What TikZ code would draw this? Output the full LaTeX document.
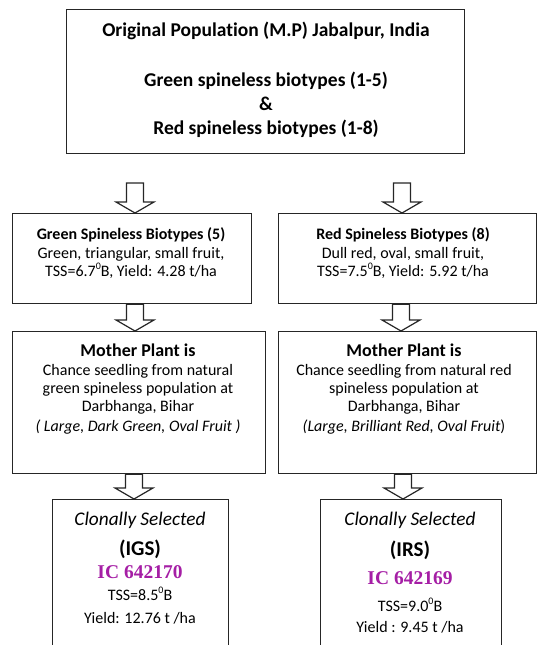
\documentclass[tikz,border=0pt]{standalone}
\usepackage{fontspec}
\setmainfont{Carlito}[Ligatures={NoCommon,NoRequired,NoContextual},Contextuals={NoAlternate}]
\newfontfamily\timesfont{Liberation Serif}
\usetikzlibrary{calc}
\definecolor{boxline}{HTML}{262626}
\definecolor{icmag}{RGB}{165,30,165}
\newcommand\degsup{\raisebox{0.42em}{\fontsize{10}{10}\selectfont 0}}
\newcommand\hollowarrow[2]{%
  \draw[harrow] let \p1=(#1), \p2=(#2) in
    (\x1-8.5pt,\y1) -- (\x1-8.5pt,\y2+11pt) -- (\x1-19pt,\y2+11pt) -- (\x1,\y2)
    -- (\x1+19pt,\y2+11pt) -- (\x1+8.5pt,\y2+11pt) -- (\x1+8.5pt,\y1) -- cycle;}
\begin{document}
\begin{tikzpicture}[x=1pt,y=-1pt,
  box/.style={draw=boxline, line width=1.3pt, rectangle, inner sep=0pt, anchor=north west},
  tx/.style={anchor=base, inner sep=0pt, text=black},
  harrow/.style={draw=boxline, line width=1.2pt, fill=white, line join=miter}]
\useasboundingbox (0,0) rectangle (537,645);
% boxes
\node[box, minimum width=398pt, minimum height=144pt] (top) at (66,9) {};
\node[box, minimum width=239pt, minimum height=90pt] (gb) at (12,213) {};
\node[box, minimum width=258pt, minimum height=90pt] (rb) at (278,213) {};
\node[box, minimum width=253pt, minimum height=142pt] (gm) at (12,331) {};
\node[box, minimum width=258pt, minimum height=142pt] (rm) at (278,331) {};
\node[box, minimum width=176pt, minimum height=170pt] (gs) at (52,499) {};
\node[box, minimum width=181pt, minimum height=170pt] (rs) at (320,499) {};
% top text
\begin{scope}[font=\fontsize{19.5}{24}\selectfont\bfseries]
\node[tx] (t1) at (266,36) {Original Population (M.P) Jabalpur, India};
\node[tx] (t2) at (266,86) {Green spineless biotypes (1-5)};
\node[tx] (t3) at (266,110) {\&};
\node[tx] (t4) at (266,134) {Red spineless biotypes (1-8)};
\end{scope}
% biotype boxes
\begin{scope}[font=\fontsize{16}{19}\selectfont]
\node[tx, font=\fontsize{16}{19}\selectfont\bfseries] (gb1) at (131,239) {Green Spineless Biotypes (5)};
\node[tx] (gb2) at (131,258) {Green, triangular, small fruit,};
\node[tx] (gb3) at (131,276) {TSS=6.7\degsup B, Yield: 4.28 t/ha};
\node[tx, font=\fontsize{16}{19}\selectfont\bfseries] (rb1) at (403,239) {Red Spineless Biotypes (8)};
\node[tx] (rb2) at (403,258) {Dull red, oval, small fruit,};
\node[tx] (rb3) at (403,276) {TSS=7.5\degsup B, Yield: 5.92 t/ha};
\end{scope}
% mother plant boxes
\begin{scope}[font=\fontsize{16}{19}\selectfont]
\node[tx, font=\fontsize{18}{21}\selectfont\bfseries] (gm1) at (138,356) {Mother Plant is};
\node[tx] (gm2) at (138,375) {Chance seedling from natural};
\node[tx] (gm3) at (138,393) {green spineless population at};
\node[tx] (gm4) at (138,411) {Darbhanga, Bihar};
\node[tx] (gm5) at (138,431) {\textit{( Large, Dark Green, Oval Fruit )}};
\node[tx, font=\fontsize{18}{21}\selectfont\bfseries] (rm1) at (404,356) {Mother Plant is};
\node[tx] (rm2) at (404,375) {Chance seedling from natural red};
\node[tx] (rm3) at (404,393) {spineless population at};
\node[tx] (rm4) at (404,411) {Darbhanga, Bihar};
\node[tx] (rm5) at (404,431) {\textit{(Large, Brilliant Red, Oval Fruit})};
\end{scope}
% selected boxes
\begin{scope}[font=\fontsize{16}{19}\selectfont]
\node[tx, font=\fontsize{19.3}{22}\selectfont\itshape] (gs1) at (140,525) {Clonally Selected};
\node[tx, font=\fontsize{21}{24}\selectfont\bfseries] (gs2) at (140,555) {(IGS)};
\node[tx, font=\fontsize{19.5}{22}\selectfont\timesfont\bfseries, text=icmag] (gs3) at (140,578) {IC 642170};
\node[tx] (gs4) at (140,600) {TSS=8.5\degsup B};
\node[tx] (gs5) at (140,623) {Yield: 12.76 t /ha};
\node[tx, font=\fontsize{19.3}{22}\selectfont\itshape] (rs1) at (410,525) {Clonally Selected};
\node[tx, font=\fontsize{21}{24}\selectfont\bfseries] (rs2) at (410,556) {(IRS)};
\node[tx, font=\fontsize{19.5}{22}\selectfont\timesfont\bfseries, text=icmag] (rs3) at (410,584) {IC 642169};
\node[tx] (rs4) at (410,611) {TSS=9.0\degsup B};
\node[tx] (rs5) at (410,632) {Yield : 9.45 t /ha};
\end{scope}
% arrows
\coordinate (a1) at (135,183);
\coordinate (a2) at (402,183);
\coordinate (a3) at (135,0);
\coordinate (a4) at (401,0);
\coordinate (a5) at (134,0);
\coordinate (a6) at (403,0);
\hollowarrow{a1}{gb.north -| a1}
\hollowarrow{a2}{rb.north -| a2}
\hollowarrow{gb.south -| a3}{gm.north -| a3}
\hollowarrow{rb.south -| a4}{rm.north -| a4}
\hollowarrow{gm.south -| a5}{gs.north -| a5}
\hollowarrow{rm.south -| a6}{rs.north -| a6}
\end{tikzpicture}
\end{document}
